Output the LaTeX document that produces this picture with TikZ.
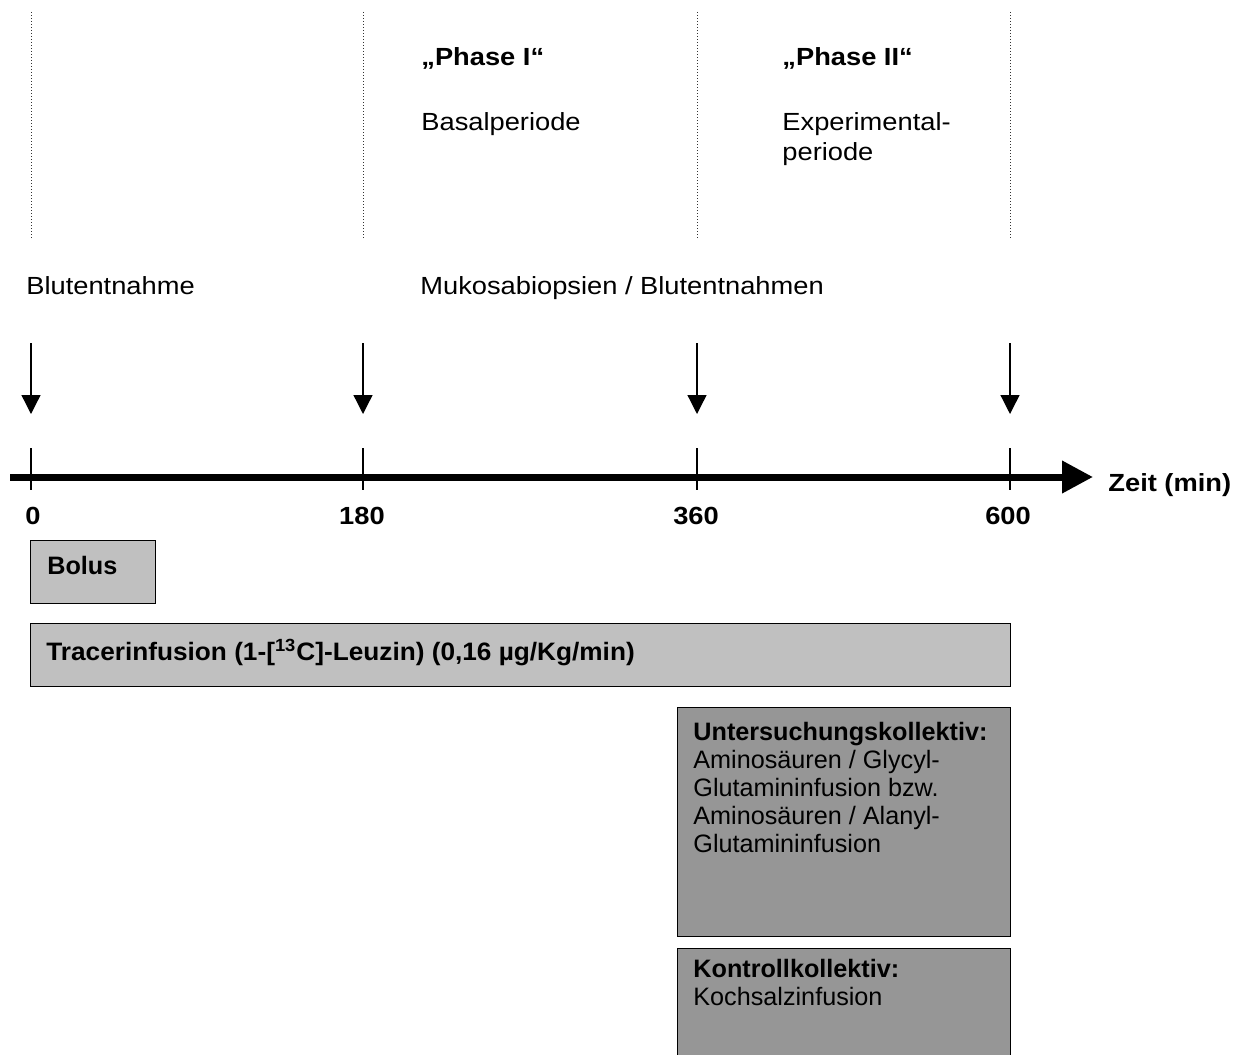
\documentclass[tikz,border=0pt]{standalone}
\usepackage{fontspec}
\setmainfont{Liberation Sans}
\newfontfamily\widefont{Liberation Sans}[FakeStretch=1.10]
\newfontfamily\midfont{Liberation Sans}[FakeStretch=1.04]
\usetikzlibrary{arrows.meta}
\definecolor{lightbox}{RGB}{192,192,192}
\definecolor{darkbox}{RGB}{150,150,150}
\newcommand{\toplines}[1]{\begin{tabular}[t]{@{}l@{}}#1\end{tabular}}
\begin{document}
\begin{tikzpicture}[x=0.5pt,y=-0.5pt,
  guide/.style={draw=black!80,line width=0.5pt,densely dotted},
  lbl/.style={anchor=base west,inner sep=0pt,font=\widefont\fontsize{12.4}{15}\selectfont},
  blbl/.style={lbl,font=\widefont\bfseries\fontsize{12.4}{15}\selectfont},
  axlbl/.style={anchor=base,inner sep=0pt,font=\widefont\bfseries\fontsize{12.4}{14.5}\selectfont},
  samplearrow/.style={line width=0.65pt,-{Triangle[length=9.5pt,width=9.5pt]}},
  tick/.style={line width=0.65pt},
  axisline/.style={line width=3.5pt,-{Triangle[length=15.5pt,width=15.5pt]}},
  boxlight/.style={draw=black,line width=0.65pt,fill=lightbox,anchor=north west,inner sep=0pt},
  boxdark/.style={draw=black,line width=0.65pt,fill=darkbox,anchor=north west,inner sep=0pt},
  boxtxt/.style={anchor=base west,inner sep=0pt,font=\fontsize{12.6}{14}\selectfont}]
\useasboundingbox (0,0) rectangle (1245,1054);
\clip (0,0) rectangle (1245,1054);

% dotted guide lines
\foreach \n/\x in {g0/31,g1/363,g2/697,g3/1010}{
  \coordinate (\n t) at (\x,12);
  \coordinate (\n b) at (\x,240);
  \draw[guide] (\n t) -- (\n b);
}

% phase labels
\node[blbl] (phaseI) at (421,66) {„Phase I“};
\node[lbl] (basal) at (421,130) {Basalperiode};
\node[blbl] (phaseII) at (782,66) {„Phase II“};
\node[lbl] (exper) at (782,130) {\toplines{Experimental-\\periode}};

% sampling labels
\node[lbl] (blut) at (26,294) {Blutentnahme};
\node[lbl] (muko) at (420,294) {Mukosabiopsien / Blutentnahmen};

% sampling arrows
\foreach \n/\x in {s0/31,s1/363,s2/697,s3/1010}{
  \coordinate (\n t) at (\x,343);
  \coordinate (\n b) at (\x,414);
  \draw[samplearrow] (\n t) -- (\n b);
}

% time axis
\coordinate (axstart) at (10,477);
\coordinate (axend) at (1093,477);
\draw[axisline] (axstart) -- (axend);
\foreach \n/\x in {k0/31,k1/363,k2/697,k3/1010}{
  \coordinate (\n t) at (\x,448);
  \coordinate (\n b) at (\x,490);
  \draw[tick] (\n t) -- (\n b);
}
\node[axlbl,anchor=base west] (t0) at (25,524) {0};
\node[axlbl] (t180) at (362,524) {180};
\node[axlbl] (t360) at (696,524) {360};
\node[axlbl] (t600) at (1008,524) {600};
\node[blbl] (zeit) at (1108,491) {Zeit (min)};

% boxes
\node[boxlight,minimum width=62.5pt,minimum height=31.5pt] (bolus) at (30,540) {};
\node[boxtxt,font=\bfseries\fontsize{12.6}{14}\selectfont] (bolustxt) at (47,574) {Bolus};

\node[boxlight,minimum width=490pt,minimum height=31.5pt] (tracer) at (30,623) {};
\node[boxtxt,font=\midfont\bfseries\fontsize{12.6}{14}\selectfont] (tracertxt) at (46,660) {Tracerinfusion (1-[\textsuperscript{13}C]-Leuzin) (0,16 µg/Kg/min)};

\node[boxdark,minimum width=166.5pt,minimum height=114.5pt] (unters) at (677,707) {};
\node[boxtxt] (unterstxt) at (693,740) {\toplines{\textbf{Untersuchungskollektiv:}\\Aminosäuren / Glycyl-\\Glutamininfusion bzw.\\Aminosäuren / Alanyl-\\Glutamininfusion}};

\node[boxdark,minimum width=166.5pt,minimum height=60pt] (kontroll) at (677,948) {};
\node[boxtxt] (kontrolltxt) at (693,977) {\toplines{\textbf{Kontrollkollektiv:}\\Kochsalzinfusion}};
\end{tikzpicture}
\end{document}
